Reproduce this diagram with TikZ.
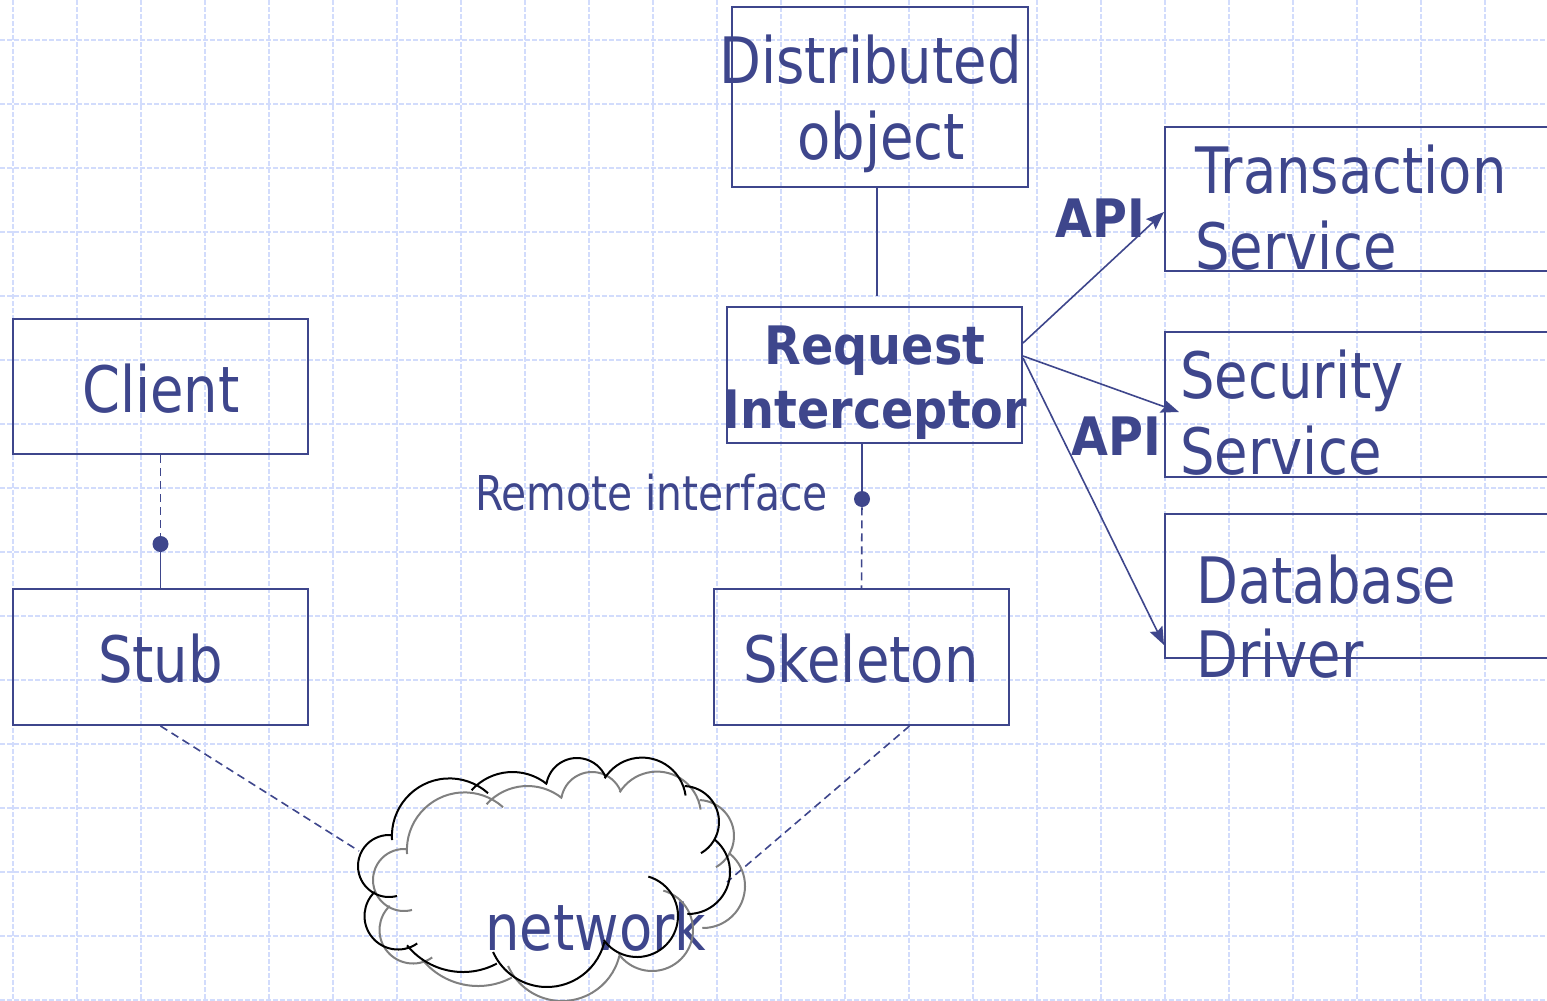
\documentclass[tikz,border=0pt]{standalone}
\usepackage{fontspec}
\setmainfont{DejaVu Sans}[FakeStretch=0.85]
\newfontfamily\bfam{DejaVu Sans}[FakeStretch=0.9]
\usetikzlibrary{arrows.meta}
\definecolor{blu}{RGB}{62,70,140}
\definecolor{gridc}{RGB}{210,220,252}
\definecolor{cloudgray}{RGB}{128,128,128}
\newcommand\cloudshape{%
 (389,866) ++(75:31) arc[start angle=75,end angle=276,radius=31]
 (449.5,836) ++(176:57.6) arc[start angle=176,end angle=312,radius=57.6]
 (512.5,827) ++(222:55) arc[start angle=222,end angle=309,radius=55]
 (577,789) ++(191:31) arc[start angle=191,end angle=338,radius=31]
 (642,801.6) ++(212:44) arc[start angle=212,end angle=352,radius=44]
 (683,822) ++(273:36) arc[start angle=273,end angle=420,radius=36]
 (688,872) ++(310:42) arc[start angle=310,end angle=451,radius=42]
 (637,916) ++(286:41) arc[start angle=286,end angle=504,radius=41]
 (547,928) ++(14:59) arc[start angle=14,end angle=156,radius=59]
 (463,900) ++(62:72) arc[start angle=62,end angle=141,radius=72]
 (398,916) ++(55:33.5) arc[start angle=55,end angle=226,radius=33.5]
}
\begin{document}
\begin{tikzpicture}[x=0.5pt,y=-0.5pt,
  gridl/.style={draw=gridc, line width=0.55pt, dash pattern=on 2.5pt off 1pt},
  box/.style={draw=blu, line width=1pt, inner sep=0pt, minimum width=147.5pt, minimum height=68pt},
  big/.style={text=blu, font=\fontsize{32}{38}\selectfont, inner sep=0pt},
  small/.style={text=blu, font=\fontsize{24}{29}\selectfont, inner sep=0pt},
  bld/.style={text=blu, font=\bfam\bfseries\fontsize{26.5}{32}\selectfont, inner sep=0pt},
  conn/.style={draw=blu, line width=0.8pt},
  dsh/.style={conn, dash pattern=on 4pt off 2.5pt},
  dotn/.style={circle, fill=blu, inner sep=0pt, minimum size=8pt},
  arr/.style={conn, -{Stealth[length=9pt,width=7pt,inset=1.5pt]}}]
\useasboundingbox (0,0) rectangle (1547,1001);
\fill[white] (0,0) rectangle (1547,1001);
% grid
\foreach \gx in {13,77,...,1485} \draw[gridl] (\gx,0) -- (\gx,1001);
\foreach \gy in {40,104,...,1000} \draw[gridl] (0,\gy) -- (1547,\gy);

% boxes
\node[box, minimum width=148pt, minimum height=90pt] (do) at (880,97) {};
\node[big, anchor=base] (tdo1) at (870.5,83) {Distributed};
\node[big, anchor=base] (tdo2) at (881,159) {object};

\node[box] (ri) at (874.5,375) {};
\node[bld, anchor=base] (tri1) at (875,364) {Request};
\node[bld, anchor=base] (tri2) at (875,428) {Interceptor};

\node[box, minimum height=67.5pt] (cl) at (160.5,386.5) {};
\node[big, anchor=base] (tcl) at (161,412) {Client};

\node[box] (st) at (160.5,657) {};
\node[big, anchor=base] (tst) at (160.5,682) {Stub};

\node[box] (sk) at (861.5,657) {};
\node[big, anchor=base] (tsk) at (861,682) {Skeleton};

\node[box, minimum width=225pt, minimum height=72pt] (ts) at (1390,199) {};
\node[big, anchor=base west] (tts1) at (1195,193) {Transaction};
\node[big, anchor=base west] (tts2) at (1195,269) {Service};

\node[box, minimum width=225pt, minimum height=72.5pt] (ss) at (1390,404.5) {};
\node[big, anchor=base west] (tss1) at (1180,398) {Security};
\node[big, anchor=base west] (tss2) at (1180,474) {Service};

\node[box, minimum width=225pt, minimum height=72pt] (db) at (1390,586) {};
\node[big, anchor=base west] (tdb1) at (1196,603) {Database};
\node[big, anchor=base west] (tdb2) at (1196,677) {Driver};

\node[small, anchor=base east] (rif) at (828,510) {Remote interface};
\node[bld, anchor=base west] (api1) at (1055,237) {API};
\node[bld, anchor=base west] (api2) at (1071,455) {API};

% connectors
\coordinate (dend) at (877,296);
\draw[conn] ([xshift=-1.5pt]do.south) -- (dend);
\node[dotn] (d2) at (862,499) {};
\draw[conn] ([xshift=-6.25pt]ri.south) -- (d2);
\draw[dsh] (d2) -- (sk.north);
\node[dotn] (d1) at (160.5,544) {};
\draw[dsh] (cl.south) -- (d1);
\draw[conn] (d1) -- (st.north);

\coordinate (cL) at (359,851);
\coordinate (cR) at (727,882);
\draw[dsh] (st.south) -- (cL);
\draw[dsh] ([xshift=24pt]sk.south) -- (cR);

\draw[arr] ([yshift=16pt]ri.east) -- ([yshift=-6.5pt]ts.west);
\draw[arr] ([yshift=9.5pt]ri.east) -- ([xshift=7.5pt,yshift=-3.75pt]ss.west);
\draw[arr] ([yshift=8.5pt]ri.east) -- ([yshift=-29.5pt]db.west);

% cloud
\node[big, anchor=base west] (net) at (485,950) {network};
\draw[cloudgray, line width=1pt, shift={(15,14)}] \cloudshape;
\draw[black, line width=1pt] \cloudshape;
\end{tikzpicture}
\end{document}
